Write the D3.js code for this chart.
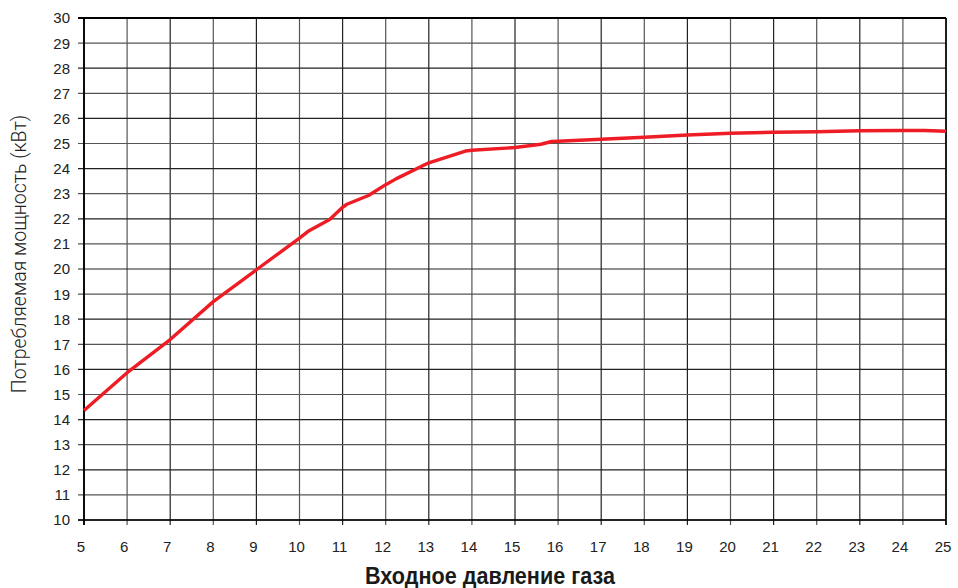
<!DOCTYPE html>
<html><head><meta charset="utf-8">
<script src="https://cdn.jsdelivr.net/npm/d3@7"></script>
<style>body{margin:0;background:#fff}svg{display:block}</style>
</head><body>
<svg id="c" width="958" height="588"></svg>
<script>
const pressure = [5, 6, 7, 8, 9, 10, 10.2, 10.7, 11, 11.1, 11.6, 12, 12.25, 13, 13.85, 14, 15, 15.6, 15.85, 16, 17, 18, 19, 20, 21, 22, 23, 24, 24.5, 25];
const power    = [14.36, 15.87, 17.19, 18.7, 19.97, 21.23, 21.5, 21.97, 22.46, 22.58, 22.93, 23.36, 23.6, 24.23, 24.7, 24.73, 24.84, 24.97, 25.08, 25.09, 25.17, 25.25, 25.34, 25.41, 25.45, 25.47, 25.51, 25.52, 25.52, 25.49];
const xTicks = d3.range(5, 26);
const yTicks = d3.range(10, 31);
const xTitle = "Входное давление газа";
const yTitle = "Потребляемая мощность (кВт)";

const svg = d3.select("#c");
const m = {l:84, r:946, t:18, b:520};
const x = d3.scaleLinear().domain([5,25]).range([m.l, m.r]);
const y = d3.scaleLinear().domain([10,30]).range([m.b, m.t]);

// grid
const g = svg.append("g");
g.selectAll(".vx").data(xTicks).join("line")
  .attr("x1", d=>x(d)).attr("x2", d=>x(d)).attr("y1", m.t).attr("y2", m.b+5)
  .attr("stroke", (d,i)=> i%2 ? "#555" : "#222").attr("stroke-width", 1.2);
g.selectAll(".hy").data(yTicks).join("line")
  .attr("x1", m.l-6).attr("x2", m.r).attr("y1", d=>y(d)).attr("y2", d=>y(d))
  .attr("stroke", (d,i)=> i%2 ? "#555" : "#222").attr("stroke-width", 1.2);
// frame
svg.append("line").attr("x1", m.l).attr("x2", m.l).attr("y1", m.t).attr("y2", m.b+5).attr("stroke","#000").attr("stroke-width",1.8);
svg.append("line").attr("x1", m.l-6).attr("x2", m.r).attr("y1", m.t).attr("y2", m.t).attr("stroke","#000").attr("stroke-width",1.8);
svg.append("line").attr("x1", m.l-6).attr("x2", m.r).attr("y1", m.b).attr("y2", m.b).attr("stroke","#000").attr("stroke-width",1.5);
svg.append("line").attr("x1", m.r).attr("x2", m.r).attr("y1", m.t).attr("y2", m.b+5).attr("stroke","#000").attr("stroke-width",1.5);

// tick labels
const font = "'Liberation Sans', Arial, sans-serif";
svg.append("g").selectAll("text").data(yTicks).join("text")
  .attr("x", 70).attr("y", d=>y(d)).attr("dy","0.36em").attr("text-anchor","end")
  .attr("font-family", font).attr("font-size", 15).attr("fill","#222").text(d=>d);
svg.append("g").selectAll("text").data(xTicks).join("text")
  .attr("x", d=>x(d)-3).attr("y", 552).attr("text-anchor","middle")
  .attr("font-family", font).attr("font-size", 15).attr("fill","#222").text(d=>d);

// curve
const line = d3.line().x(d=>x(d[0])).y(d=>y(d[1]));
svg.append("path").datum(pressure.map((p,i)=>[p, power[i]]))
  .attr("d", line).attr("fill","none").attr("stroke","#ee1c25").attr("stroke-width",3.4)
  .attr("stroke-linejoin","round");

// titles
svg.append("text").attr("transform","translate(26,254) rotate(-90)")
  .attr("text-anchor","middle").attr("font-family","Roboto, 'Liberation Sans', sans-serif")
  .attr("font-weight",300).attr("font-size",19.5).attr("fill","#222").text(yTitle);
svg.append("text").attr("transform","translate(490,584) scale(0.9,1)").attr("text-anchor","middle")
  .attr("font-family","'Liberation Sans', Arial, sans-serif")
  .attr("font-weight","bold").attr("font-size",24).attr("fill","#1a1a1a").text(xTitle);
</script>
</body></html>
